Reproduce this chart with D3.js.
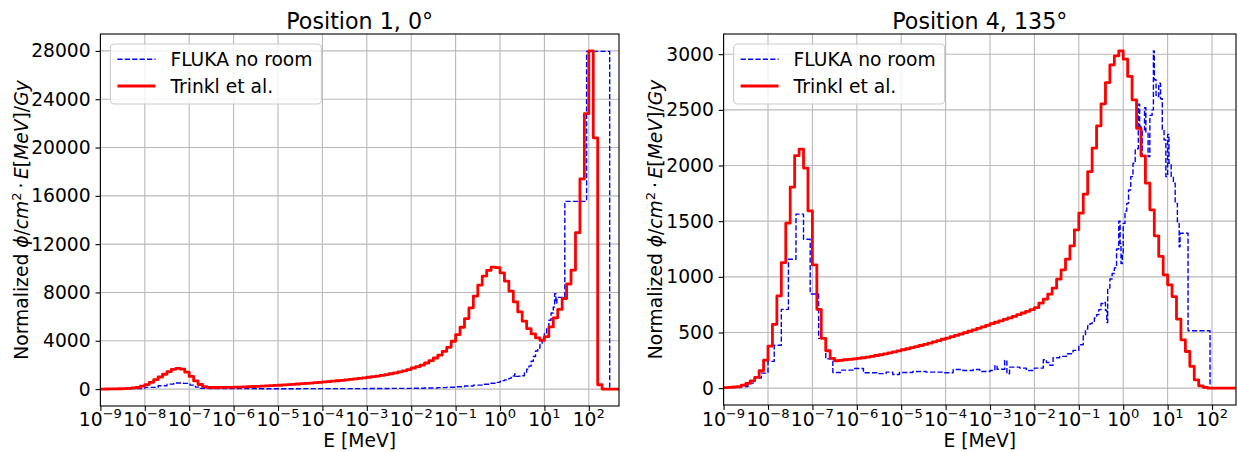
<!DOCTYPE html>
<html>
<head>
<meta charset="utf-8">
<script src="https://cdn.jsdelivr.net/npm/d3@7"></script>
<style>
  html, body { margin: 0; padding: 0; background: #ffffff; }
  svg { display: block; }
  text { font-family: "DejaVu Sans", sans-serif; fill: #000; }
</style>
</head>
<body>
<svg id="chart" width="1238" height="452"></svg>
<script>
// ---- axis ticks ----
const tickExponents = [-9, -8, -7, -6, -5, -4, -3, -2, -1, 0, 1, 2];
const pos1YTicks = [0, 4000, 8000, 12000, 16000, 20000, 24000, 28000];
const pos4YTicks = [0, 500, 1000, 1500, 2000, 2500, 3000];

// ---- Trinkl et al. spectra: 10 bins per decade, first bin starts at 1e-9 MeV ----
const trinklFirstExp = -9;
const trinklBinsPerDecade = 10;
const trinklPos1 = [
  5, 8, 12, 18, 28, 40, 60, 95, 150, 240,
  370, 560, 780, 1000, 1230, 1450, 1640, 1720, 1650, 1400,
  1050, 680, 380, 200, 140, 130, 130, 135, 140, 150,
  160, 170, 185, 200, 215, 230, 245, 260, 280, 300,
  320, 345, 370, 395, 420, 445, 470, 500, 530, 560,
  590, 620, 655, 690, 725, 765, 805, 845, 890, 935,
  980, 1030, 1080, 1130, 1200, 1270, 1340, 1420, 1510, 1620,
  1745, 1855, 1990, 2160, 2350, 2575, 2820, 3130, 3460, 3960,
  4510, 5120, 5840, 6730, 7700, 8610, 9360, 9830, 10100, 10050,
  9630, 8940, 8110, 7220, 6390, 5620, 5010, 4570, 4240, 4040,
  4350, 5150, 5900, 6600, 7500, 8700, 9850, 12950, 17400, 22800,
  28000, 20800, 360, 0, 0, 0, 0, 0
];
const trinklPos4 = [
  5, 7, 10, 14, 27, 42, 66, 96, 156, 252,
  378, 573, 828, 1128, 1482, 1806, 2088, 2148, 1977, 1593,
  1107, 708, 447, 336, 267, 246, 250, 255, 258, 262,
  267, 273, 279, 286, 293, 300, 308, 316, 325, 335,
  345, 354, 364, 373, 383, 393, 404, 416, 427, 439,
  450, 462, 474, 486, 498, 511, 524, 537, 550, 564,
  579, 592, 605, 618, 631, 645, 660, 675, 690, 706,
  723, 763, 800, 844, 898, 979, 1063, 1159, 1278, 1422,
  1572, 1743, 1946, 2156, 2356, 2554, 2745, 2904, 2985, 3030,
  2955, 2800, 2590, 2335, 2087, 1841, 1602, 1368, 1183, 1018,
  928, 823, 620, 434, 329, 195, 75, 21, 6, 0,
  0, 0, 0, 0, 0, 0
];

// ---- FLUKA (no room) spectra: [log10 of bin lower edge in MeV, value] ----
const flukaPos1 = [
  [-9.0, 5], [-8.4, 40], [-8.0, 140], [-7.7, 275], [-7.5, 410], [-7.35, 500],
  [-7.13, 470], [-6.98, 330], [-6.86, 165], [-6.75, 60], [-6.55, 35], [-5.5, 30],
  [-4.5, 35], [-3.5, 40], [-3.0, 50], [-2.5, 60], [-2.0, 75], [-1.7, 95],
  [-1.4, 125], [-1.2, 155], [-1.0, 190], [-0.8, 260], [-0.6, 330], [-0.4, 400],
  [-0.2, 480], [-0.1, 560], [0.0, 630], [0.05, 700], [0.1, 760], [0.15, 830],
  [0.2, 890], [0.25, 960], [0.3, 1080], [0.33, 1250], [0.36, 1050], [0.42, 1070],
  [0.5, 1110], [0.55, 1350], [0.6, 1650], [0.65, 1900], [0.7, 2300], [0.75, 2700],
  [0.8, 3150], [0.85, 3400], [0.9, 3700], [0.95, 4100], [1.0, 4600], [1.05, 5100],
  [1.1, 5700], [1.15, 6300], [1.2, 6800], [1.23, 7900], [1.26, 7100], [1.28, 7590],
  [1.46, 15540], [1.95, 27960], [2.47, 0]
];
const flukaPos1TopExp = 2.8;

const flukaPos4 = [
  [-9.0, 5], [-8.6, 15], [-8.45, 45], [-8.3, 90], [-8.15, 135], [-8.0, 240],
  [-7.86, 385], [-7.7, 708], [-7.54, 1158], [-7.37, 1563], [-7.2, 1338], [-7.05, 846],
  [-6.86, 447], [-6.7, 264], [-6.54, 141], [-6.34, 162], [-6.07, 177], [-5.85, 138],
  [-5.55, 130], [-5.34, 144], [-5.19, 123], [-5.04, 141], [-4.74, 150], [-4.44, 144],
  [-4.06, 138], [-3.83, 168], [-3.61, 159], [-3.38, 168], [-3.23, 150], [-3.0, 159],
  [-2.89, 204], [-2.84, 170], [-2.67, 249], [-2.62, 129], [-2.56, 189], [-2.33, 180],
  [-2.18, 159], [-2.0, 180], [-1.8, 255], [-1.73, 230], [-1.65, 205], [-1.58, 273],
  [-1.43, 285], [-1.28, 309], [-1.13, 339], [-1.0, 390], [-0.9, 470], [-0.85, 530],
  [-0.8, 560], [-0.75, 580], [-0.7, 600], [-0.65, 630], [-0.6, 660], [-0.55, 705],
  [-0.5, 760], [-0.45, 770], [-0.4, 700], [-0.37, 590], [-0.35, 900], [-0.3, 980],
  [-0.25, 1030], [-0.2, 1080], [-0.15, 1250], [-0.1, 1500], [-0.07, 1300], [-0.05, 1120],
  [-0.02, 1200], [0.0, 1480], [0.04, 1590], [0.08, 1660], [0.12, 1780], [0.17, 1900],
  [0.22, 2020], [0.27, 2140], [0.3, 2150], [0.34, 2550], [0.37, 2350], [0.4, 2100],
  [0.43, 2320], [0.48, 2520], [0.51, 2300], [0.56, 2080], [0.6, 2450], [0.65, 2500],
  [0.68, 3030], [0.7, 2770], [0.74, 2620], [0.8, 2740], [0.84, 2600], [0.88, 2320],
  [0.92, 2230], [0.96, 1900], [1.0, 2280], [1.03, 2020], [1.08, 1900], [1.13, 1840],
  [1.17, 1660], [1.22, 1480], [1.26, 1270], [1.28, 1392], [1.46, 515], [1.955, 0]
];
const flukaPos4TopExp = 2.6;

const seriesNames = ["FLUKA no room", "Trinkl et al."];

// ---- layout ----
const svg = d3.select("#chart");
const panels = [
  { title: "Position 1, 0°", left: 100.4, right: 619, top: 34, bottom: 406,
    xMaxExp: 2.68, yDomain: [-1400, 29400], yTicks: pos1YTicks,
    trinkl: trinklPos1, fluka: flukaPos1, flukaTop: flukaPos1TopExp, ylabelX: 28 },
  { title: "Position 4, 135°", left: 723.6, right: 1236, top: 34, bottom: 405,
    xMaxExp: 2.54, yDomain: [-151.5, 3181.5], yTicks: pos4YTicks,
    trinkl: trinklPos4, fluka: flukaPos4, flukaTop: flukaPos4TopExp, ylabelX: 662 }
];

const TICK = 4.9, FONT = 18.7, SUP = 13.1;
const gridColor = "#b9b9b9";

panels.forEach((p, idx) => {
  const x = d3.scaleLog().domain([1e-9, Math.pow(10, p.xMaxExp)]).range([p.left, p.right]);
  const y = d3.scaleLinear().domain(p.yDomain).range([p.bottom, p.top]);
  const g = svg.append("g");

  const clipId = "clip" + idx;
  svg.append("defs").append("clipPath").attr("id", clipId)
    .append("rect").attr("x", p.left).attr("y", p.top)
    .attr("width", p.right - p.left).attr("height", p.bottom - p.top);

  // grid
  const grid = g.append("g");
  grid.selectAll("line.vx").data(tickExponents).join("line")
    .attr("x1", e => x(Math.pow(10, e))).attr("x2", e => x(Math.pow(10, e)))
    .attr("y1", p.top).attr("y2", p.bottom)
    .attr("stroke", gridColor).attr("stroke-width", 1.1);
  grid.selectAll("line.hy").data(p.yTicks).join("line")
    .attr("x1", p.left).attr("x2", p.right)
    .attr("y1", d => y(d)).attr("y2", d => y(d))
    .attr("stroke", gridColor).attr("stroke-width", 1.1);

  // step histograms
  const step = d3.line().x(d => d[0]).y(d => d[1]).curve(d3.curveStepAfter);
  const data = g.append("g").attr("clip-path", `url(#${clipId})`);

  const fPts = p.fluka.map(d => [x(Math.pow(10, d[0])), y(d[1])]);
  fPts.push([x(Math.pow(10, p.flukaTop)), y(p.fluka[p.fluka.length - 1][1])]);
  data.append("path").attr("d", step(fPts))
    .attr("fill", "none").attr("stroke", "#0000ff").attr("stroke-width", 1.4)
    .attr("stroke-dasharray", "5.2,2.2").attr("stroke-linejoin", "round");

  const edge = k => x(Math.pow(10, trinklFirstExp + k / trinklBinsPerDecade));
  const tPts = p.trinkl.map((v, k) => [edge(k), y(v)]);
  tPts.push([edge(p.trinkl.length), y(p.trinkl[p.trinkl.length - 1])]);
  data.append("path").attr("d", step(tPts))
    .attr("fill", "none").attr("stroke", "#ff0000").attr("stroke-width", 2.8)
    .attr("stroke-linejoin", "round");

  // axes
  const yAxis = d3.axisLeft(y).tickValues(p.yTicks).tickSize(TICK).tickPadding(4.9)
    .tickSizeOuter(0).tickFormat(d3.format("d"));
  const ya = g.append("g").attr("transform", `translate(${p.left},0)`).call(yAxis);
  ya.select(".domain").remove();
  ya.selectAll(".tick line").attr("stroke", "#000").attr("stroke-width", 1.1);
  ya.selectAll(".tick text").attr("font-size", FONT).attr("font-family", "DejaVu Sans").attr("fill", "#000");

  const xAxis = d3.axisBottom(x).tickValues(tickExponents.map(e => Math.pow(10, e)))
    .tickSize(TICK).tickSizeOuter(0).tickFormat(() => "");
  const xa = g.append("g").attr("transform", `translate(0,${p.bottom})`).call(xAxis);
  xa.select(".domain").remove();
  xa.selectAll(".tick line").attr("stroke", "#000").attr("stroke-width", 1.1);
  xa.selectAll(".tick text").remove();

  const xl = g.append("g").selectAll("text").data(tickExponents).join("text")
    .attr("x", e => x(Math.pow(10, e))).attr("y", 425.8)
    .attr("text-anchor", "middle").attr("font-size", FONT);
  xl.append("tspan").text("10");
  xl.append("tspan").attr("dy", -7.4).attr("font-size", SUP)
    .text(e => (e < 0 ? "\u2212" + (-e) : String(e)));

  // frame
  g.append("rect").attr("x", p.left).attr("y", p.top)
    .attr("width", p.right - p.left).attr("height", p.bottom - p.top)
    .attr("fill", "none").attr("stroke", "#000").attr("stroke-width", 1.1);

  // title
  g.append("text").attr("x", (p.left + p.right) / 2).attr("y", 28.5)
    .attr("text-anchor", "middle").attr("font-size", 22.2).text(p.title);

  // x label
  g.append("text").attr("x", (p.left + p.right) / 2).attr("y", 447)
    .attr("text-anchor", "middle").attr("font-size", FONT).text("E [MeV]");

  // y label
  const yl = g.append("text")
    .attr("transform", `translate(${p.ylabelX},${(p.top + p.bottom) / 2}) rotate(-90)`)
    .attr("text-anchor", "middle").attr("font-size", FONT);
  const parts = [
    ["Normalized ", "normal"], ["\u03d5", "italic"], ["/", "normal"], ["cm", "italic"]
  ];
  parts.forEach(([t, s]) => yl.append("tspan").attr("font-style", s).text(t));
  yl.append("tspan").attr("font-size", SUP).attr("dy", -7.4).text("2");
  yl.append("tspan").attr("dy", 7.4).text("\u2009\u00b7\u2009");
  [["E", "italic"], ["[", "normal"], ["MeV", "italic"], ["]", "normal"], ["/", "normal"], ["Gy", "italic"]]
    .forEach(([t, s]) => yl.append("tspan").attr("font-style", s).text(t));

  // legend
  const lx = p.left + 10, ly = 44;
  const lg = g.append("g");
  lg.append("rect").attr("x", lx).attr("y", ly).attr("width", 211).attr("height", 60)
    .attr("rx", 4).attr("fill", "#fff").attr("fill-opacity", 0.8)
    .attr("stroke", "#cccccc").attr("stroke-width", 1.1);
  lg.append("line").attr("x1", lx + 7).attr("x2", lx + 45).attr("y1", ly + 15.3).attr("y2", ly + 15.3)
    .attr("stroke", "#0000ff").attr("stroke-width", 1.4).attr("stroke-dasharray", "5.2,2.2");
  lg.append("line").attr("x1", lx + 7).attr("x2", lx + 45).attr("y1", ly + 42).attr("y2", ly + 42)
    .attr("stroke", "#ff0000").attr("stroke-width", 2.8);
  lg.append("text").attr("x", lx + 60).attr("y", ly + 21.7).attr("font-size", FONT).text(seriesNames[0]);
  lg.append("text").attr("x", lx + 60).attr("y", ly + 48.7).attr("font-size", FONT).text(seriesNames[1]);
});
</script>
</body>
</html>
